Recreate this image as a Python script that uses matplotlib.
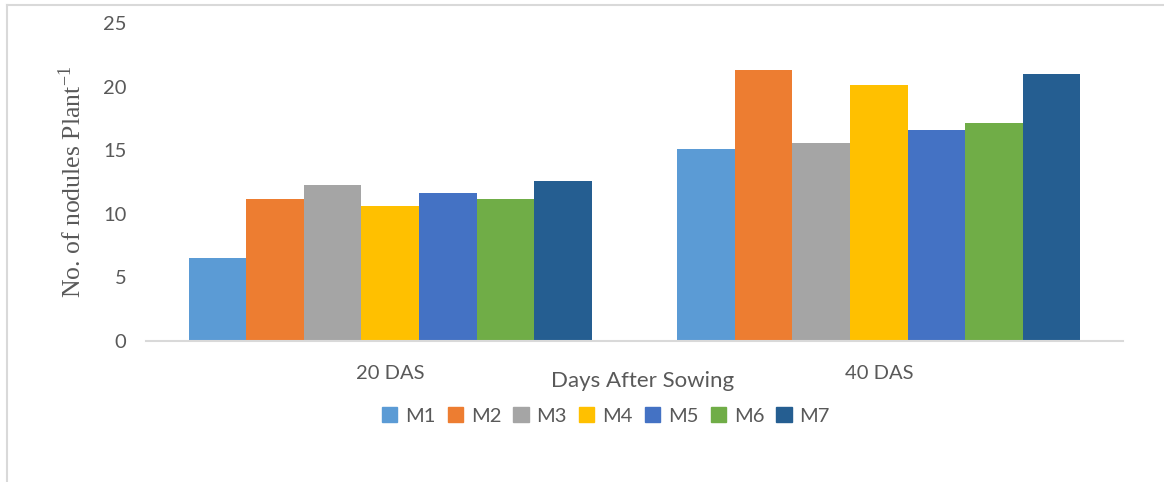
import matplotlib.pyplot as plt
from matplotlib.lines import Line2D
from matplotlib.patches import Patch
import numpy as np

plt.rcParams['mathtext.fontset'] = 'stix'

stages = ['20 DAS', '40 DAS']
treatments = ['M1', 'M2', 'M3', 'M4', 'M5', 'M6', 'M7']
nodules = {
    'M1': [6.5, 15.1],
    'M2': [11.2, 21.3],
    'M3': [12.3, 15.6],
    'M4': [10.6, 20.1],
    'M5': [11.6, 16.6],
    'M6': [11.2, 17.1],
    'M7': [12.6, 21.0],
}
colors = ['#5B9BD5', '#ED7D31', '#A5A5A5', '#FFC000', '#4472C4', '#70AD47', '#255E91']

txt = '#595959'
fig = plt.figure(figsize=(11.64, 4.82), dpi=100)
ax = fig.add_axes([0.1254, 0.2925, 0.8394, 0.6598])

x = np.arange(len(stages))
w = 0.825 / len(treatments)
for i, m in enumerate(treatments):
    ax.bar(x + (i - 3) * w, nodules[m], width=w, color=colors[i], label=m)

ax.set_xlim(-0.5, 1.5)
ax.set_ylim(0, 25)
ax.set_yticks(range(0, 26, 5))
ax.set_xticks(x)
ax.set_xticklabels(stages)
ax.tick_params(length=0, labelsize=14.5, labelcolor=txt, labelfontfamily='Lato')
ax.tick_params(axis='y', pad=14)
ax.tick_params(axis='x', pad=17)
for s in ['top', 'right', 'left']:
    ax.spines[s].set_visible(False)
ax.spines['bottom'].set_color('#D9D9D9')
ax.spines['bottom'].set_linewidth(1.5)

ax.set_ylabel('No. of nodules Plant$^{\\mathregular{-1}}$', fontsize=18.5,
              family='Liberation Serif', color=txt, labelpad=12)
fig.text(643 / 1164, 1 - 381 / 482, 'Days After Sowing', ha='center', va='center',
         fontsize=16, family='Lato', color=txt)

handles = [Patch(color=c) for c in colors]
fig.legend(handles, treatments, loc='center', bbox_to_anchor=(606 / 1164, 1 - 416 / 482),
           ncol=7, frameon=False, handlelength=0.75, handleheight=0.75, handletextpad=0.4,
           columnspacing=0.6, prop={'family': 'Lato', 'size': 14.5}, labelcolor=txt)

# outer chart border (left and top edges)
fig.add_artist(Line2D([7 / 1164, 7 / 1164], [0, 1 - 5 / 482], transform=fig.transFigure,
                      color='#D9D9D9', lw=1.5))
fig.add_artist(Line2D([7 / 1164, 1], [1 - 5 / 482, 1 - 5 / 482], transform=fig.transFigure,
                      color='#D9D9D9', lw=1.5))

fig.savefig('out.png', dpi=100)
